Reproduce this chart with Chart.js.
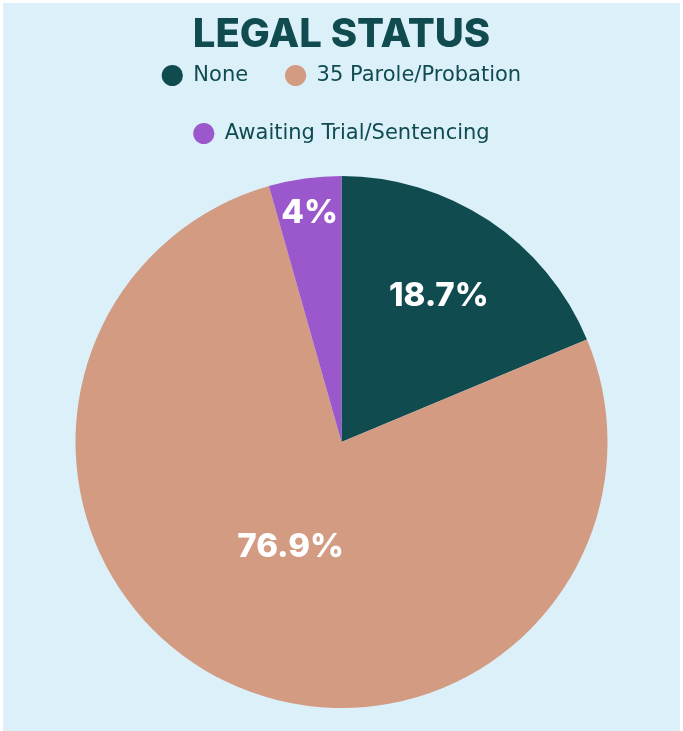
<!DOCTYPE html>
<html>
<head>
<meta charset="utf-8">
<script src="https://cdn.jsdelivr.net/npm/chart.js@4.4.0/dist/chart.umd.min.js"></script>
<style>
  html, body { margin: 0; padding: 0; background: #ffffff; }
  #wrap {
    position: absolute; left: 3px; top: 3px;
    width: 677px; height: 728px;
    background: #dcf0f9;
  }
</style>
</head>
<body>
<div id="wrap"><canvas id="chart"></canvas></div>
<script>
const categories = ["None", "35 Parole/Probation", "Awaiting Trial/Sentencing"];
const shares = [18.7, 76.9, 4.4];
const shareLabels = ["18.7%", "76.9%", "4%"];
const sliceColors = ["#0f4b4f", "#d29b82", "#9b58cc"];

const FONT = "Inter, 'Open Sans', sans-serif";
const LEGEND_FONT = "'DejaVu Sans', Inter, sans-serif";
const DARK = "#0f4b4f";

// where each percentage sits, as a share of the radius
const labelRadius = [0.66, 0.44, 0.87];

const sliceLabels = {
    id: "sliceLabels",
    afterDatasetsDraw(chart) {
        const ctx = chart.ctx;
        const arcs = chart.getDatasetMeta(0).data;
        ctx.save();
        ctx.fillStyle = "#ffffff";
        ctx.font = "800 33px " + FONT;
        ctx.textAlign = "center";
        ctx.textBaseline = "middle";
        arcs.forEach((arc, i) => {
            const { x, y, startAngle, endAngle, outerRadius } = arc.getProps(["x", "y", "startAngle", "endAngle", "outerRadius"], true);
            const mid = (startAngle + endAngle) / 2;
            const r = outerRadius * labelRadius[i];
            ctx.fillText(shareLabels[i], x + Math.cos(mid) * r, y + Math.sin(mid) * r);
        });
        ctx.restore();
    }
};

// some room between the legend and the pie
const legendGap = {
    id: "legendGap",
    beforeInit(chart) {
        const fit = chart.legend.fit;
        chart.legend.fit = function () {
            fit.call(this);
            this.height += 22;
        };
    }
};

let ctx = document.getElementById("chart");
const chartConfig = {
    type: "pie",
    data: {
        labels: categories,
        datasets: [{
            data: shares,
            backgroundColor: sliceColors,
            borderWidth: 0,
        }]
    },
    options: {
        responsive: true,
        maintainAspectRatio: false,
        animation: false,
        layout: { padding: { top: 4, bottom: 23 } },
        plugins: {
            title: {
                display: true,
                text: "LEGAL STATUS",
                color: DARK,
                font: { family: FONT, size: 40, weight: "800" },
                padding: { top: 4, bottom: -31 },
            },
            legend: {
                position: "top",
                labels: {
                    usePointStyle: true,
                    pointStyle: "circle",
                    boxHeight: 15,
                    color: DARK,
                    font: { family: LEGEND_FONT, size: 21 },
                    padding: 37,
                }
            },
            tooltip: { enabled: false },
        }
    },
    plugins: [sliceLabels, legendGap]
};
let chart = new Chart(ctx, chartConfig);
</script>
</body>
</html>
